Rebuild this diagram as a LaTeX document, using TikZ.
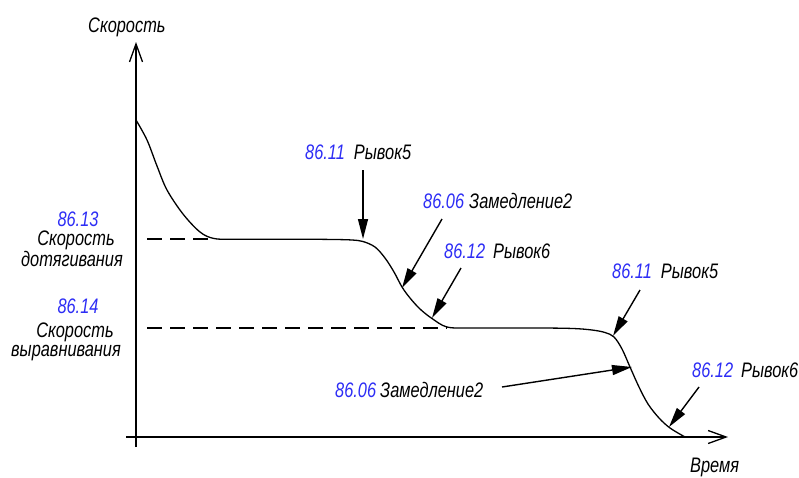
\documentclass[tikz,border=0pt]{standalone}
\usepackage{fontspec}
\setmainfont{Liberation Sans}[FakeStretch=0.78]
\usetikzlibrary{arrows.meta}
\definecolor{blu}{RGB}{45,45,245}
\begin{document}
\begin{tikzpicture}[x=1pt,y=-1pt,
  lbl/.style={inner sep=0pt,font=\fontsize{21}{17}\selectfont\itshape},
  num/.style={text=blu},
  axis/.style={line width=1.8pt,-{Straight Barb[length=18pt,width=13pt,line width=1.3pt]}},
  ptr/.style={line width=1.4pt,-{Triangle[length=20pt,width=10pt]}},
  guide/.style={line width=1.3pt,dash pattern=on 15pt off 8pt},
  crv/.style={line width=1.3pt}]
\useasboundingbox (0,0) rectangle (799,477);
% axes
\coordinate (yb) at (136,447);
\coordinate (yt) at (136,42);
\coordinate (xl) at (126,437);
\coordinate (xr) at (728,437);
\draw[axis] (yb) -- (yt);
\draw[axis] (xl) -- (xr);
\node[lbl,anchor=base west] (ylab) at (88,32) {Скорость};
\node[lbl,anchor=base west] (xlab) at (690,472) {Время};
% guides
\coordinate (g1a) at (147,239);
\coordinate (g1b) at (214,239);
\coordinate (g2a) at (147,328);
\coordinate (g2b) at (447,328);
\draw[guide] (g1a) -- (g1b);
\draw[guide] (g2a) -- (g2b);
% curve
\draw[crv] plot[smooth,tension=0.55] coordinates {
 (136,120) (147,140) (157,166) (167,190) (183,214) (200,232) (214,238.5) (235,239.2)
 (300,239.2) (335,239.5) (352,240) (363,241.5) (375,247) (385,258) (394,272) (402,287)
 (410,298) (420,309) (432,318.5) (447,327) (470,328) (540,328) (573,328.5) (592,330)
 (605,332.5) (614,337) (622,349) (630,367) (639,387) (648,404) (659,418) (670,428) (685,437)};
% left labels
\node[lbl,num] (n13) at (78,219) {86.13};
\node[lbl,align=center,anchor=base] (l13) at (72,266) {\hspace*{8pt}Скорость\\дотягивания};
\node[lbl,num] (n14) at (78,306) {86.14};
\node[lbl,align=center,anchor=base,font=\fontsize{21}{18.5}\selectfont\itshape] (l14) at (66,356) {\hspace*{18pt}Скорость\\выравнивания};
% callouts
\node[lbl,anchor=base west] (c1) at (305,159) {\textcolor{blu}{86.11}\hspace{9pt}Рывок5};
\node[lbl,anchor=base west] (c2) at (423,208) {\textcolor{blu}{86.06}\hspace{5pt}Замедление2};
\node[lbl,anchor=base west] (c3) at (444,258) {\textcolor{blu}{86.12}\hspace{8pt}Рывок6};
\node[lbl,anchor=base west] (c4) at (612,278) {\textcolor{blu}{86.11}\hspace{9pt}Рывок5};
\node[lbl,anchor=base west] (c5) at (335,397) {\textcolor{blu}{86.06}\hspace{4pt}Замедление2};
\node[lbl,anchor=base west] (c6) at (692,377) {\textcolor{blu}{86.12}\hspace{8pt}Рывок6};
\coordinate (s1) at (363,170); \coordinate (t1) at (363,239);
\coordinate (s2) at (442,219); \coordinate (t2) at (402,288);
\coordinate (s3) at (461,268); \coordinate (t3) at (432,318);
\coordinate (s4) at (640,290); \coordinate (t4) at (613,336);
\coordinate (s5) at (502,387); \coordinate (t5) at (632,367);
\coordinate (s6) at (699,387); \coordinate (t6) at (669,427);
\draw[ptr] (s1) -- (t1);
\draw[ptr] (s2) -- (t2);
\draw[ptr] (s3) -- (t3);
\draw[ptr] (s4) -- (t4);
\draw[ptr] (s5) -- (t5);
\draw[ptr] (s6) -- (t6);
\end{tikzpicture}
\end{document}
